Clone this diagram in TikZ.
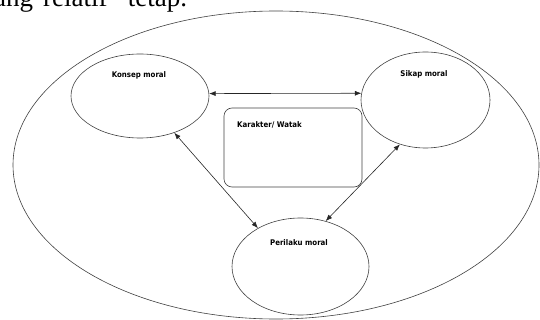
\documentclass[tikz,border=0pt]{standalone}
\usepackage{fontspec}
\setmainfont{Liberation Serif}
\newfontfamily\lblfont{DejaVu Sans Condensed}
\usetikzlibrary{shapes.geometric,arrows.meta}
\begin{document}
\begin{tikzpicture}[x=1pt,y=-1pt,
  oval/.style={ellipse,draw=black!75,line width=0.6pt,inner sep=0pt},
  lbl/.style={font=\lblfont\bfseries\fontsize{7.8}{9}\selectfont,inner sep=0pt,anchor=base},
  link/.style={draw=black!85,line width=0.6pt,{Latex[length=6.5pt,width=5pt]}-{Latex[length=6.5pt,width=5pt]}}]
\useasboundingbox (0,0) rectangle (540,320);
\clip (0,0) rectangle (540,320);
% cropped running text at top
\node[anchor=base west,inner sep=0pt,font=\fontsize{27}{30}\selectfont] (toptext) at (-6,7) {ang\hspace{0.12em} relatif\hspace{0.5em} tetap.};
% outer ellipse
\node[oval,minimum width=526pt,minimum height=308pt] (outer) at (276,165) {};
% inner ellipses
\node[oval,minimum width=138pt,minimum height=84pt] (konsep) at (140,96) {};
\node[oval,minimum width=129pt,minimum height=96pt] (sikap) at (425.5,100) {};
\node[oval,minimum width=137pt,minimum height=97pt] (perilaku) at (300.5,266.5) {};
% box
\node[draw=black!75,line width=0.6pt,rounded corners=8pt,minimum width=138pt,minimum height=79pt,inner sep=0pt] (karakter) at (293,147.5) {};
% labels
\node[lbl] (tkonsep) at (139,78) {Konsep moral};
\node[lbl] (tsikap) at (424,77) {Sikap moral};
\node[lbl] (tperilaku) at (299,245) {Perilaku moral};
\node[lbl,anchor=base west] (tkarakter) at (237,128) {Karakter/ Watak};
% connectors
\draw[link] (konsep.2.5) -- (sikap.174);
\draw[link] (konsep.-47) -- (perilaku.138.5);
\draw[link] (sikap.-120) -- (perilaku.61);
\end{tikzpicture}
\end{document}
